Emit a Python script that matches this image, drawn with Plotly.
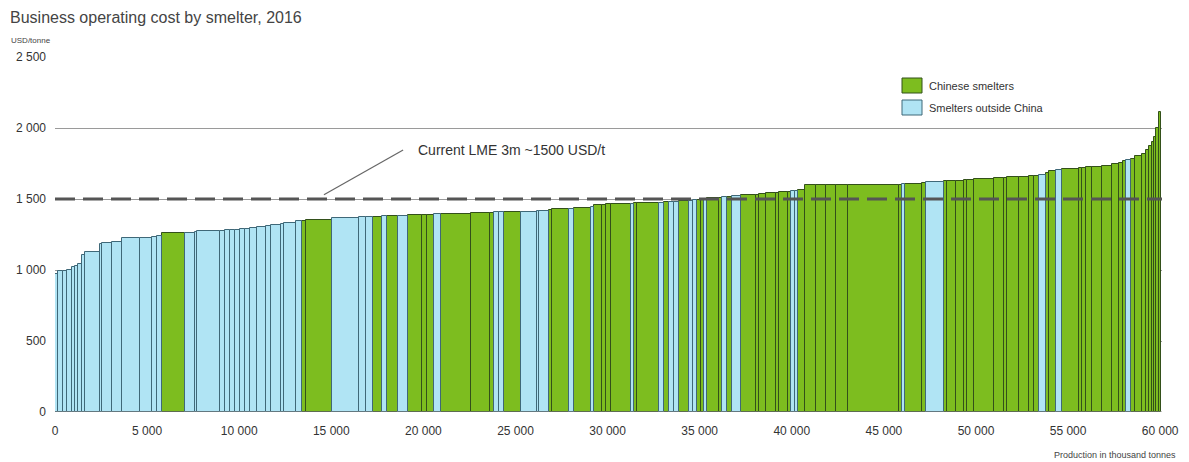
import numpy as np
import plotly.graph_objects as go

# Smelters sorted by business operating cost (2016)
# production in thousand tonnes, cost in USD/tonne, region: C = Chinese, W = outside China
production_kt = [
    0.16, 0.27, 0.22, 0.27, 0.16, 0.16, 0.22, 0.16, 0.81, 0.11,
    0.54, 0.54, 0.98, 0.65, 0.27, 0.27, 1.25, 0.54, 0.11, 1.25,
    0.27, 0.27, 0.27, 0.27, 0.27, 0.27, 0.43, 0.49, 0.27, 0.54,
    0.16, 0.65, 0.33, 0.22, 1.41, 1.47, 0.38, 0.33, 0.49, 0.27,
    0.60, 0.54, 0.76, 0.27, 0.43, 0.38, 1.63, 0.98, 0.27, 0.27,
    0.27, 0.92, 0.87, 0.11, 0.54, 0.16, 0.92, 0.27, 0.92, 0.16,
    0.43, 0.22, 0.27, 1.09, 0.16, 0.16, 1.19, 0.27, 0.27, 0.27,
    0.27, 0.54, 0.22, 0.22, 0.22, 0.16, 0.16, 0.65, 0.16, 0.27,
    0.27, 0.49, 0.81, 0.16, 0.38, 0.54, 0.16, 0.54, 0.16, 0.22,
    0.16, 0.38, 0.60, 0.54, 0.54, 0.65, 2.75, 0.16, 0.16, 0.92,
    0.22, 0.98, 0.16, 0.49, 0.43, 0.16, 0.38, 1.09, 0.54, 0.16,
    0.65, 0.54, 0.27, 0.27, 0.38, 0.16, 0.38, 0.33, 0.92, 0.16,
    0.22, 0.33, 0.54, 0.54, 0.38, 0.22, 0.16, 0.27, 0.27, 0.33,
    0.22, 0.16, 0.16, 0.11, 0.16, 0.11, 0.11,
]
cost_usd_t = [
    975, 990, 995, 1000, 1020, 1030, 1040, 1105, 1127, 1180,
    1190, 1200, 1225, 1228, 1232, 1240, 1261, 1262, 1265, 1275,
    1278, 1280, 1282, 1284, 1286, 1289, 1296, 1303, 1310, 1317,
    1322, 1331, 1345, 1348, 1352, 1366, 1370, 1373, 1375, 1377,
    1380, 1383, 1387, 1388, 1390, 1392, 1394, 1401, 1403, 1405,
    1406, 1408, 1412, 1414, 1415, 1420, 1430, 1433, 1437, 1445,
    1455, 1460, 1462, 1465, 1468, 1470, 1472, 1475, 1478, 1480,
    1482, 1486, 1488, 1490, 1495, 1498, 1500, 1507, 1510, 1513,
    1516, 1521, 1525, 1530, 1535, 1542, 1544, 1546, 1550, 1553,
    1556, 1563, 1599, 1600, 1600, 1600, 1600, 1602, 1603, 1605,
    1610, 1622, 1625, 1627, 1630, 1632, 1634, 1641, 1645, 1650,
    1655, 1657, 1660, 1665, 1669, 1680, 1695, 1704, 1710, 1715,
    1718, 1722, 1728, 1735, 1746, 1755, 1765, 1775, 1785, 1800,
    1820, 1845, 1870, 1900, 1940, 2000, 2110,
]
region = list(
    "WWWWWWWWWW"
    "WWWWWWCWWW"
    "WWWWWWWWWW"
    "WWWCCWWWCW"
    "CWCCCWCCCW"
    "WCWWWCCWCW"
    "CCCCWCCWCW"
    "WCWWCCWCCW"
    "CWCCCCCCCW"
    "WCCCCCCCWC"
    "CWCCCCCCCC"
    "CCCCWCCWCC"
    "CCCCCCCWCC"
    "CCCCCCC"
)

LME_PRICE = 1500
x_tick_vals = [0, 5000, 10000, 15000, 20000, 25000, 30000, 35000, 40000, 45000, 50000, 55000, 60000]
x_tick_text = ["0", "5 000", "10 000", "15 000", "20 000", "25 000", "30 000",
               "35 000", "40 000", "45 000", "50 000", "55 000", "60 000"]
y_tick_vals = [0, 500, 1000, 1500, 2000, 2500]
y_tick_text = ["0", "500", "1 000", "1 500", "2 000", "2 500"]

w = np.array(production_kt) * 1000.0
c = np.array(cost_usd_t, dtype=float)
reg = np.array(region)
left = np.concatenate([[0.0], np.cumsum(w)[:-1]])
center = left + w / 2
total = w.sum()
x_max = max(total, 60100)

# plot area geometry in pixels
L, R, T, B = 55, 27, 57, 50
W_PLOT, H_PLOT = 1189 - L - R, 462 - T - B
def px(xp):
    return (xp - L) / W_PLOT
def py(yp):
    return (462 - B - yp) / H_PLOT

FONT = "Liberation Sans, Arial, sans-serif"
GREEN, GREEN_EDGE = "#7dbd1f", "#33501a"
BLUE, BLUE_EDGE = "#b0e4f4", "#3f6878"

fig = go.Figure()
for code, name, fill, edge in [("C", "Chinese smelters", GREEN, GREEN_EDGE),
                               ("W", "Smelters outside China", BLUE, BLUE_EDGE)]:
    m = reg == code
    fig.add_trace(go.Bar(
        x=center[m], y=c[m], width=w[m], name=name,
        marker=dict(color=fill, line=dict(color=edge, width=1)),
        showlegend=False,
    ))

# LME price dashed line
fig.add_shape(type="line", xref="x", yref="y", x0=0, x1=x_max, y0=LME_PRICE, y1=LME_PRICE,
              line=dict(color="#555555", width=3, dash="20px,8px"), layer="above")
# leader line
fig.add_shape(type="line", xref="x", yref="y", x0=14600, y0=1530, x1=18900, y1=1845,
              line=dict(color="#666666", width=1.2), layer="above")
fig.add_annotation(x=19600, y=1845, xref="x", yref="y", text="Current LME 3m ~1500 USD/t",
                   showarrow=False, xanchor="left", yanchor="middle",
                   font=dict(family=FONT, size=14, color="#333333"))

# legend (manual)
for i, (label, fill, edge) in enumerate([("Chinese smelters", GREEN, GREEN_EDGE),
                                         ("Smelters outside China", BLUE, BLUE_EDGE)]):
    y_top = 78 + i * 22
    fig.add_shape(type="rect", xref="paper", yref="paper",
                  x0=px(902), x1=px(922), y0=py(y_top + 15), y1=py(y_top),
                  fillcolor=fill, line=dict(color=edge, width=1))
    fig.add_annotation(x=px(927), y=py(y_top + 7.5), xref="paper", yref="paper",
                       text=label, showarrow=False, xanchor="left", yanchor="middle",
                       font=dict(family=FONT, size=11, color="#333333"))

fig.add_annotation(x=px(9), y=py(40), xref="paper", yref="paper", text="USD/tonne",
                   showarrow=False, xanchor="left", yanchor="middle",
                   font=dict(family=FONT, size=8, color="#444444"))
fig.add_annotation(x=px(1178), y=py(455), xref="paper", yref="paper",
                   text="Production in thousand tonnes",
                   showarrow=False, xanchor="right", yanchor="middle",
                   font=dict(family=FONT, size=9, color="#444444"))

fig.update_layout(
    width=1189, height=462,
    margin=dict(l=L, r=R, t=T, b=B, autoexpand=False),
    paper_bgcolor="white", plot_bgcolor="white",
    barmode="overlay", bargap=0,
    font=dict(family=FONT, size=12, color="#333333"),
    title=dict(text="Business operating cost by smelter, 2016", x=10 / 1189, xanchor="left",
               y=1 - 17 / 462, yanchor="middle", font=dict(family=FONT, size=16, color="#444444")),
    xaxis=dict(range=[0, x_max], tickvals=x_tick_vals, ticktext=x_tick_text,
               showgrid=False, zeroline=False, showline=False, ticks="",
               ticklabelstandoff=10,
               tickfont=dict(size=12, color="#333333")),
    yaxis=dict(range=[0, 2500], tickvals=y_tick_vals, ticktext=y_tick_text,
               showgrid=True, gridcolor="#9a9a9a", gridwidth=1, zeroline=False,
               showline=False, ticks="", ticklabelstandoff=8,
               tickfont=dict(size=12, color="#333333")),
)
# axis baseline
fig.add_shape(type="line", xref="x", yref="y", x0=0, x1=x_max, y0=0, y1=0,
              line=dict(color="#888888", width=1), layer="above")

fig.write_html("out.html", config={"displayModeBar": False},
               post_script="document.body.style.margin='0';")
